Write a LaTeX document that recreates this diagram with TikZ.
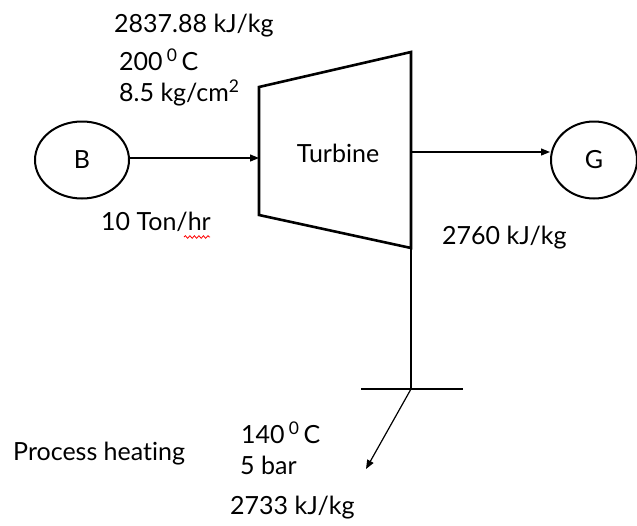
\documentclass[tikz,border=0pt]{standalone}
\usepackage{fontspec}
\setmainfont[Ligatures=NoCommon]{Lato}
\usetikzlibrary{arrows.meta,decorations.pathmorphing,shapes.geometric}
\begin{document}
\begin{tikzpicture}[x=1pt,y=-1pt,
  lbl/.style={inner sep=0pt,font=\fontsize{25}{28}\selectfont},
  unit/.style={draw,line width=2pt,ellipse,minimum width=94pt,minimum height=77pt,inner sep=0pt,font=\fontsize{25}{28}\selectfont},
  flow/.style={line width=1.2pt,-{Triangle[length=9pt,width=7pt]}},
  pipe/.style={line width=1.4pt}]
\useasboundingbox (0,0) rectangle (637,525);
% turbine
\coordinate (tl) at (259,87);
\coordinate (bl) at (259,215);
\coordinate (tr) at (411,52);
\coordinate (br) at (411,248);
\draw[line width=2.6pt,line join=miter] (tl) -- (tr) -- (br) -- (bl) -- cycle;
\node[lbl] (turb) at (338,153) {Turbine};
% boiler and generator
\node[unit] (B) at (82,160) {B};
\node[unit,minimum width=86pt] (G) at (594,160) {G};
\coordinate (tin) at (259,158);
\coordinate (tout) at (411,152);
\draw[flow] (B.east |- tin) -- (tin);
\draw[flow] (tout) -- (tout -| G.west);
% extraction
\coordinate (j) at (411,389);
\coordinate (hl) at (361,389);
\coordinate (hr) at (463,389);
\coordinate (ph) at (366,469);
\draw[pipe] (br) -- (j);
\draw[pipe] (hl) -- (hr);
\draw[flow] (j) -- (ph);
% labels
\node[lbl,anchor=west] (h1) at (114,26) {2837.88 kJ/kg};
\node[lbl,anchor=west] (t1) at (119,60) {200\,\textsuperscript{0}\,C};
\node[lbl,anchor=west] (p1) at (119,93) {8.5 kg/cm\textsuperscript{2}};
\node[lbl,anchor=west] (m1) at (101,222) {10 Ton/hr};
\draw[red,line width=0.8pt,decorate,decoration={snake,amplitude=1.3pt,segment length=4.5pt}] (184,237) -- (210,237);
\node[lbl,anchor=west] (h2) at (442,238) {2760 kJ/kg};
\node[lbl,anchor=west] (t2) at (241,433) {140\,\textsuperscript{0}\,C};
\node[lbl,anchor=west] (p2) at (240,465) {5 bar};
\node[lbl,anchor=west] (pr) at (13,454) {Process heating};
\node[lbl,anchor=west] (h3) at (230,508) {2733 kJ/kg};
\end{tikzpicture}
\end{document}
